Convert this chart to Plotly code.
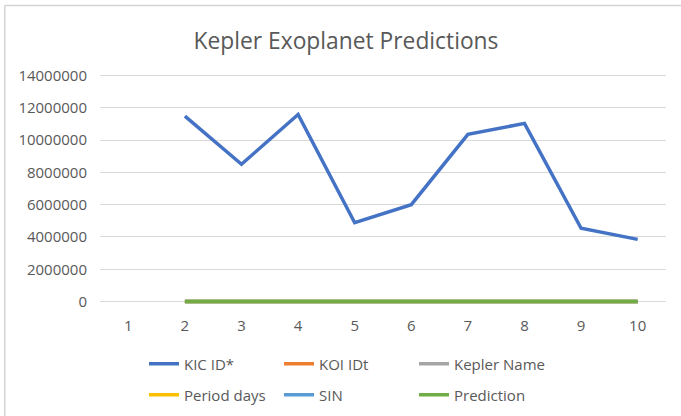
import plotly.graph_objects as go

# ---- data ----
categories = ["1", "2", "3", "4", "5", "6", "7", "8", "9", "10"]
kic_id = [None, 11480000, 8500000, 11580000, 4880000, 6000000, 10350000, 11030000, 4540000, 3850000]
koi_idt = [None, 0, 0, 0, 0, 0, 0, 0, 0, 0]
kepler_name = [None, 0, 0, 0, 0, 0, 0, 0, 0, 0]
period_days = [None, 0, 0, 0, 0, 0, 0, 0, 0, 0]
sin_vals = [None, 0, 0, 0, 0, 0, 0, 0, 0, 0]
prediction = [None, 0, 0, 0, 0, 0, 0, 0, 0, 0]
y_ticks = [0, 2000000, 4000000, 6000000, 8000000, 10000000, 12000000, 14000000]

series = [
    ("KIC ID*", kic_id, "#4472C4", "legend"),
    ("KOI IDt", koi_idt, "#ED7D31", "legend"),
    ("Kepler Name", kepler_name, "#A5A5A5", "legend"),
    ("Period days", period_days, "#FFC000", "legend2"),
    ("SIN", sin_vals, "#5B9BD5", "legend2"),
    ("Prediction", prediction, "#70AD47", "legend2"),
]

FONT = "Open Sans"
TXT = "#595959"
GRID = "#d9d9d9"

W, H = 681, 416
# plot area in pixels
PX_L, PX_R = 100, 666
Y0_PX, YTOP_PX = 302, 75          # pixel of value 0 and of 14,000,000
ymax = 14000000
ppu = (Y0_PX - YTOP_PX) / ymax    # px per unit
pad = 150000                      # small range pad so 0-line isn't clipped
plot_top = YTOP_PX - pad * ppu
plot_bot = Y0_PX + pad * ppu
plot_h = plot_bot - plot_top
plot_w = PX_R - PX_L

def px_x(px):
    return (px - PX_L) / plot_w

def px_y(py):
    return (plot_bot - py) / plot_h

fig = go.Figure()
for name, vals, color, lg in series:
    fig.add_trace(go.Scatter(
        x=categories, y=vals, name=name, mode="lines",
        line=dict(color=color, width=3.5), legend=lg,
        connectgaps=False,
    ))

legend_common = dict(orientation="h", xref="container", xanchor="left",
                     yref="container", yanchor="middle",
                     entrywidth=90, entrywidthmode="pixels",
                     font=dict(size=15, color=TXT),
                     bgcolor="rgba(0,0,0,0)", itemclick=False)

fig.update_layout(
    width=W, height=H,
    margin=dict(l=PX_L, r=W - PX_R, t=plot_top, b=H - plot_bot, pad=0, autoexpand=False),
    paper_bgcolor="white", plot_bgcolor="white",
    font=dict(family=FONT, color=TXT, size=15),
    title=dict(text="Kepler Exoplanet Predictions", x=346 / W, xref="container", xanchor="center",
               y=1 - 41 / H, yref="container", yanchor="middle",
               font=dict(family=FONT, size=22.8, color=TXT)),
    xaxis=dict(type="category", range=[-0.5, 9.5], showgrid=False, zeroline=False,
               showline=False, ticks="", tickfont=dict(size=15, color=TXT),
               ticklabelstandoff=11),
    yaxis=dict(range=[-pad, ymax + pad], tickvals=y_ticks, tickformat=".0f",
               showgrid=True, gridcolor=GRID, gridwidth=1, zeroline=False,
               showline=False, ticks="", tickfont=dict(size=15, color=TXT),
               ticklabelstandoff=12),
    legend=dict(x=144 / W, y=1 - 364 / H, **legend_common),
    legend2=dict(x=144 / W, y=1 - 395 / H, **legend_common),
    showlegend=True,
)

# chart border (top and left edges visible)
fig.add_shape(type="line", xref="paper", yref="paper",
              x0=px_x(4.8), x1=px_x(W + 5), y0=px_y(4.8), y1=px_y(4.8),
              line=dict(color="#d4d4d4", width=1.5), layer="above")
fig.add_shape(type="line", xref="paper", yref="paper",
              x0=px_x(4.8), x1=px_x(4.8), y0=px_y(4.8), y1=px_y(H + 5),
              line=dict(color="#d4d4d4", width=1.5), layer="above")

fig.write_html("out.html", config={"displayModeBar": False},
               post_script="document.body.style.margin='0px';document.body.style.overflow='hidden';")
